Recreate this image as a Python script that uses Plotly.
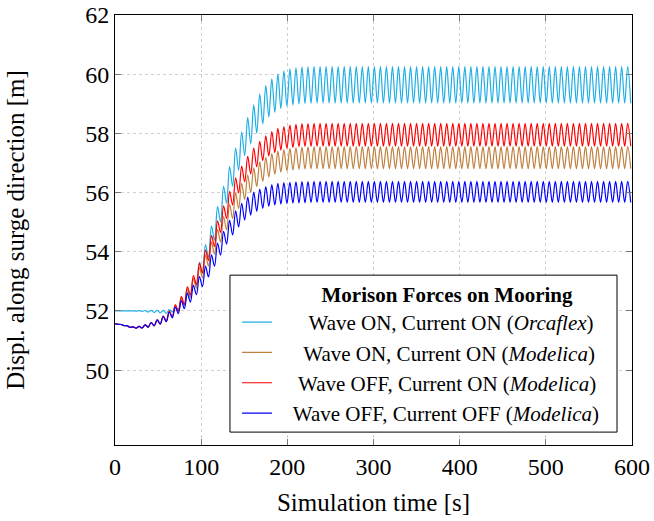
import numpy as np
import plotly.graph_objects as go

# ---------------- data ----------------
# envelope knots (simulation time, s)
t_knots = [0, 10, 20, 30, 40, 50, 60, 70, 80, 90, 100, 110, 120, 130, 140,
           150, 160, 170, 180, 190, 200, 215, 230, 600]

# centre line of each oscillating record [m]
cyan_mid = [52.00, 52.00, 52.00, 52.00, 51.99, 51.98, 51.97, 52.05, 52.30, 52.80,
            53.50, 54.30, 55.20, 56.15, 57.00, 57.75, 58.35, 58.85, 59.20, 59.42,
            59.55, 59.62, 59.64, 59.64]
brown_mid = [51.57, 51.52, 51.44, 51.45, 51.52, 51.62, 51.78, 52.03, 52.35, 52.80,
             53.30, 53.90, 54.50, 55.10, 55.65, 56.10, 56.45, 56.72, 56.92, 57.04,
             57.11, 57.16, 57.18, 57.18]
red_mid = [51.57, 51.52, 51.44, 51.45, 51.52, 51.62, 51.78, 52.05, 52.40, 52.90,
           53.45, 54.10, 54.80, 55.50, 56.15, 56.70, 57.10, 57.42, 57.65, 57.80,
           57.88, 57.94, 57.95, 57.95]
blue_mid = [51.57, 51.52, 51.44, 51.45, 51.52, 51.62, 51.76, 51.98, 52.25, 52.60,
            53.00, 53.50, 54.05, 54.60, 55.05, 55.40, 55.65, 55.80, 55.90, 55.96,
            55.99, 56.01, 56.02, 56.02]

# half peak-to-trough swing of each record [m]
cyan_swing = [0.00, 0.00, 0.00, 0.01, 0.03, 0.04, 0.05, 0.06, 0.12, 0.22, 0.30,
              0.38, 0.42, 0.46, 0.50, 0.53, 0.56, 0.58, 0.60, 0.61, 0.62, 0.62, 0.62, 0.62]
brown_swing = [0.00, 0.01, 0.02, 0.03, 0.06, 0.09, 0.12, 0.16, 0.20, 0.24, 0.27,
               0.30, 0.32, 0.33, 0.34, 0.35, 0.36, 0.37, 0.37, 0.37, 0.37, 0.37, 0.37, 0.37]
red_swing = [0.00, 0.01, 0.02, 0.03, 0.06, 0.09, 0.12, 0.16, 0.20, 0.24, 0.27,
             0.30, 0.32, 0.34, 0.35, 0.36, 0.37, 0.38, 0.38, 0.385, 0.385, 0.385, 0.385, 0.385]
blue_swing = [0.00, 0.01, 0.02, 0.03, 0.06, 0.09, 0.12, 0.15, 0.19, 0.22, 0.25,
              0.28, 0.30, 0.32, 0.33, 0.34, 0.35, 0.35, 0.355, 0.355, 0.355, 0.355, 0.355, 0.355]

wave_period = 7.0  # s, read from the spacing of the peaks

series_names = [
    "Wave ON, Current ON (<i>Orcaflex</i>)",
    "Wave ON, Current ON (<i>Modelica</i>)",
    "Wave OFF, Current ON (<i>Modelica</i>)",
    "Wave OFF, Current OFF (<i>Modelica</i>)",
]
series_colors = ["#1eaee6", "#bf8040", "#ff0000", "#0000ff"]
NB = "\u00a0"
name_pad = [NB * 6, NB * 5, NB * 4, NB * 3]
legend_title = "<b>Morison Forces on Mooring</b>"

x_ticks = [0, 100, 200, 300, 400, 500, 600]
y_ticks = [50, 52, 54, 56, 58, 60, 62]

# ---------------- build records (peak / trough points) ----------------
t_ext = np.arange(0, 600 + 1e-9, wave_period / 2)
sign = np.where(np.arange(len(t_ext)) % 2 == 0, 1.0, -1.0)


def record(mid, swing):
    m = np.interp(t_ext, t_knots, mid)
    s = np.interp(t_ext, t_knots, swing)
    return m + sign * s


mids = [cyan_mid, brown_mid, red_mid, blue_mid]
swings = [cyan_swing, brown_swing, red_swing, blue_swing]

fig = go.Figure()
for name, col, pad, mid, sw in zip(series_names, series_colors, name_pad, mids, swings):
    fig.add_trace(go.Scatter(
        x=t_ext, y=record(mid, sw), mode="lines", name=pad + name,
        line=dict(color=col, width=1.2, shape="spline", smoothing=1.0),
    ))

# legend frame
fig.add_shape(type="rect", xref="paper", yref="paper",
              x0=0.2224, x1=0.971, y0=0.030, y1=0.395,
              line=dict(color="black", width=1), fillcolor="white", layer="above")

serif = "Liberation Serif"
fig.update_layout(
    width=654, height=521,
    margin=dict(l=115, r=22, t=15, b=76, autoexpand=False),
    paper_bgcolor="white", plot_bgcolor="white",
    font=dict(family=serif, color="black", size=24),
    showlegend=True,
    legend=dict(
        x=0.236, y=0.396, xanchor="left", yanchor="top",
        bgcolor="rgba(0,0,0,0)", borderwidth=0,
        font=dict(family=serif, size=21, color="black"),
        title=dict(text=NB * 10 + legend_title, side="top center",
                   font=dict(family=serif, size=21, color="black")),
    ),
    xaxis=dict(
        range=[0, 600], tickvals=x_ticks, ticktext=[str(v) for v in x_ticks],
        showgrid=True, gridcolor="#d0d0d0", griddash="dot", gridwidth=1,
        showline=True, linecolor="black", linewidth=1, mirror="ticks",
        ticks="inside", ticklen=6, tickcolor="#777777",
        zeroline=False,
        title=dict(text="Simulation time [s]", font=dict(family=serif, size=25), standoff=14),
        tickfont=dict(family=serif, size=24),
    ),
    yaxis=dict(
        range=[47.47, 62], tickvals=y_ticks, ticktext=[str(v) for v in y_ticks],
        showgrid=True, gridcolor="#d0d0d0", griddash="dot", gridwidth=1,
        showline=True, linecolor="black", linewidth=1, mirror="ticks",
        ticks="inside", ticklen=6, tickcolor="#777777",
        zeroline=False,
        title=dict(text="Displ. along surge direction [m]", font=dict(family=serif, size=25), standoff=53),
        tickfont=dict(family=serif, size=24),
    ),
)

fig.write_html("out.html")
